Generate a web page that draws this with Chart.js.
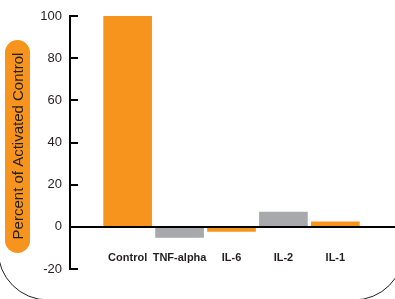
<!DOCTYPE html>
<html>
<head>
<meta charset="utf-8">
<script src="https://cdn.jsdelivr.net/npm/chart.js@4/dist/chart.umd.min.js"></script>
<style>
html,body{margin:0;padding:0;background:#fff;}
#wrap{width:395px;height:299px;position:relative;}
</style>
</head>
<body>
<div id="wrap"><canvas id="c" width="395" height="299"></canvas></div>
<script>
const categories = ['Control', 'TNF-alpha', 'IL-6', 'IL-2', 'IL-1'];
const values = [100, -5, -2.2, 7, 2.4];
const yTicks = [100, 80, 60, 40, 20, 0, -20];
const axisTitle = 'Percent of Activated Control';

const ORANGE = '#F7941D';
const GRAY = '#A7A9AC';
const INK = '#231F20';

const decor = {
  id: 'decor',
  beforeDraw(chart) {
    const ctx = chart.ctx;
    ctx.save();
    ctx.fillStyle = '#fff';
    ctx.fillRect(0, 0, chart.width, chart.height);
    ctx.strokeStyle = '#222';
    ctx.lineWidth = 1;
    ctx.beginPath();
    ctx.roundRect(-2, -100, 406, 400, 50);
    ctx.stroke();
    ctx.fillStyle = ORANGE;
    ctx.beginPath();
    ctx.roundRect(5, 40, 25, 213, 12.5);
    ctx.fill();
    ctx.restore();
  },
  afterDatasetsDraw(chart) {
    const ctx = chart.ctx;
    const y = chart.scales.y;
    const area = chart.chartArea;
    ctx.save();
    ctx.strokeStyle = '#000';
    ctx.lineWidth = 2;
    y.ticks.forEach(t => {
      const py = Math.round(y.getPixelForValue(t.value));
      ctx.beginPath();
      ctx.moveTo(area.left - 1, py);
      ctx.lineTo(area.left + 8, py);
      ctx.stroke();
    });
    const z = Math.round(y.getPixelForValue(0));
    ctx.beginPath();
    ctx.moveTo(area.left, z);
    ctx.lineTo(chart.width, z);
    ctx.stroke();
    ctx.translate(18, 146);
    ctx.rotate(-Math.PI / 2);
    ctx.fillStyle = INK;
    ctx.font = '15px "Liberation Sans", Arial, sans-serif';
    ctx.textAlign = 'center';
    ctx.textBaseline = 'middle';
    ctx.fillText(axisTitle, 0, 1);
    ctx.restore();
  }
};

new Chart(document.getElementById('c'), {
  type: 'bar',
  data: {
    datasets: [{
      data: categories.map((c, i) => ({ x: i, y: values[i] })),
      backgroundColor: ctx => (ctx.dataIndex % 2 === 0 ? ORANGE : GRAY),
      borderWidth: 0,
      barThickness: 48
    }]
  },
  options: {
    responsive: false,
    animation: false,
    devicePixelRatio: 1,
    layout: { padding: { top: 16, bottom: 30, left: 0, right: 0 } },
    plugins: { legend: { display: false }, tooltip: { enabled: false } },
    scales: {
      x: {
        type: 'linear',
        offset: false,
        min: -1.11,
        max: 5.11,
        position: { y: -10.5 },
        grid: { display: false, drawTicks: false, offset: false },
        border: { display: false },
        ticks: {
          stepSize: 1,
          autoSkip: false,
          maxRotation: 0,
          padding: 2,
          color: INK,
          font: { family: '"Liberation Sans", Arial, sans-serif', size: 11, weight: 'bold' },
          callback: v => (Number.isInteger(v) && categories[v] !== undefined ? categories[v] : '')
        }
      },
      y: {
        min: -20,
        max: 100,
        afterBuildTicks: s => { s.ticks = yTicks.map(v => ({ value: v })); },
        afterFit: s => { s.width = 70; },
        grid: { display: false, drawTicks: false },
        border: { display: true, color: '#000', width: 2 },
        ticks: {
          padding: 8,
          color: INK,
          font: { family: '"Liberation Sans", Arial, sans-serif', size: 13 }
        }
      }
    }
  },
  plugins: [decor]
});
</script>
</body>
</html>
